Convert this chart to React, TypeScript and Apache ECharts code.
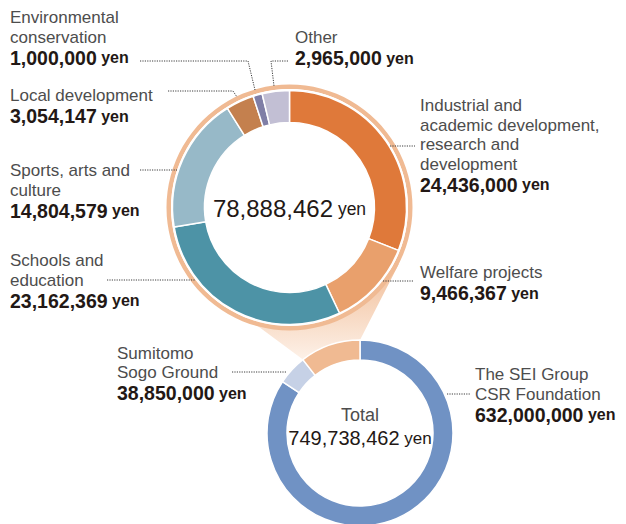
import React, { useEffect, useRef } from 'react';
import * as echarts from 'echarts';

// ---------- data ----------
const topCategories = [
  'Industrial and academic development, research and development',
  'Welfare projects',
  'Schools and education',
  'Sports, arts and culture',
  'Local development',
  'Environmental conservation',
  'Other',
];
const topLabelLines = [
  ['Industrial and', 'academic development,', 'research and', 'development'],
  ['Welfare projects'],
  ['Schools and', 'education'],
  ['Sports, arts and', 'culture'],
  ['Local development'],
  ['Environmental', 'conservation'],
  ['Other'],
];
const topValues = [24436000, 9466367, 23162369, 14804579, 3054147, 1000000, 2965000];
const topColors = ['#DF793A', '#E9A06C', '#4D93A6', '#97B9C8', '#C4804E', '#7F7EA6', '#C2BFD4'];

const bottomCategories = ['The SEI Group CSR Foundation', 'Sumitomo Sogo Ground'];
const bottomLabelLines = [['The SEI Group', 'CSR Foundation'], ['Sumitomo', 'Sogo Ground']];
const bottomValues = [632000000, 38850000];
const bottomColors = ['#7092C4', '#C6D1E6', '#F0BA92'];

// ---------- layout (positions / styles) ----------
const FONT = '"Liberation Sans", Arial, sans-serif';
const TC = [289.5, 207.5]; // top donut centre
const TR = [85, 117];
const RING = [118.5, 123];
const BC = [360, 433]; // bottom donut centre
const BR = [73, 93];

const topLabelPos: number[][] = [[420, 96], [420, 263], [10, 251], [10, 161], [10, 86], [10, 8], [295, 28]];
const topLeaders: number[][][] = [
  [[390, 146], [415, 146]],
  [[383, 281], [413, 281]],
  [[107, 280], [195, 280]],
  [[140, 170], [177, 170]],
  [[168, 91], [233, 91], [237, 97]],
  [[140, 61], [248, 61], [255, 90]],
  [[288, 61], [271, 61], [274, 86]],
];
const bottomLabelPos: number[][] = [[475, 365], [117, 343.5]];
const bottomLeaders: number[][][] = [
  [[447, 394], [470, 394]],
  [[232, 372], [287, 372]],
];

const fmt = (v: number) => v.toLocaleString('en-US');

const rich = {
  n: { fontFamily: FONT, fontSize: 17, lineHeight: 19.5, fill: '#4d4d4d' },
  v: { fontFamily: FONT, fontSize: 19.5, fontWeight: 'bold', lineHeight: 21.5, fill: '#231815' },
  y: { fontFamily: FONT, fontSize: 16, fontWeight: 'bold', lineHeight: 21.5, fill: '#231815' },
  c: { fontFamily: FONT, fontSize: 24, lineHeight: 28, fill: '#231815' },
  cy: { fontFamily: FONT, fontSize: 17.5, lineHeight: 28, fill: '#231815' },
  t: { fontFamily: FONT, fontSize: 18, lineHeight: 22, fill: '#4d4d4d' },
  tv: { fontFamily: FONT, fontSize: 20, lineHeight: 24, fill: '#231815' },
  ty: { fontFamily: FONT, fontSize: 17, lineHeight: 24, fill: '#231815' },
};

function labelText(lines: string[], value: number) {
  return lines.map((l) => `{n|${l}}`).join('\n') + `\n{v|${fmt(value)}}{y| yen}`;
}

function tangentAngle(p: number[], c: number[], r: number, side: number) {
  const dx = p[0] - c[0];
  const dy = p[1] - c[1];
  const d = Math.sqrt(dx * dx + dy * dy);
  return Math.atan2(dy, dx) + side * Math.acos(r / d);
}

export default function App() {
  const ref = useRef<HTMLDivElement>(null);
  useEffect(() => {
    if (!ref.current) return;
    const chart = echarts.init(ref.current, undefined, { renderer: 'svg' });

    const topSum = topValues.reduce((a, b) => a + b, 0);
    const bottomData = [...bottomValues, topSum];
    const total = bottomData.reduce((a, b) => a + b, 0);

    // funnel connecting top donut to its slice in the bottom donut
    const theta = (2 * Math.PI * topSum) / total;
    const pL = [BC[0] - BR[1] * Math.sin(theta), BC[1] - BR[1] * Math.cos(theta)];
    const pR = [BC[0], BC[1] - BR[1]];
    const aL = tangentAngle(pL, TC, 114, 1);
    const aR = tangentAngle(pR, TC, RING[1], -1);
    const funnel: number[][] = [pL, [TC[0] + 114 * Math.cos(aL), TC[1] + 114 * Math.sin(aL)]];
    const steps = 10;
    for (let i = 1; i < steps; i++) {
      const a = aL + ((aR - aL) * i) / steps;
      funnel.push([TC[0] + 116 * Math.cos(a), TC[1] + 116 * Math.sin(a)]);
    }
    funnel.push([TC[0] + RING[1] * Math.cos(aR), TC[1] + RING[1] * Math.sin(aR)]);
    funnel.push(pR);

    const elements: any[] = [
      {
        type: 'polygon',
        z: 0,
        silent: true,
        shape: { points: funnel },
        style: {
          fill: new echarts.graphic.LinearGradient(0, 0, 0, 1, [
            { offset: 0, color: '#F1BD97' },
            { offset: 1, color: '#FDF1E8' },
          ]),
        },
      },
    ];

    const leaderStyle = { stroke: '#3c3c3c', lineWidth: 1, lineDash: [1.2, 1.2], fill: null };
    topValues.forEach((v, i) => {
      elements.push({
        type: 'text',
        z: 100,
        x: topLabelPos[i][0],
        y: topLabelPos[i][1],
        style: { text: labelText(topLabelLines[i], v), rich, align: 'left', verticalAlign: 'top' },
      });
      elements.push({ type: 'polyline', z: 100, shape: { points: topLeaders[i] }, style: leaderStyle });
    });
    bottomValues.forEach((v, i) => {
      elements.push({
        type: 'text',
        z: 100,
        x: bottomLabelPos[i][0],
        y: bottomLabelPos[i][1],
        style: { text: labelText(bottomLabelLines[i], v), rich, align: 'left', verticalAlign: 'top' },
      });
      elements.push({ type: 'polyline', z: 100, shape: { points: bottomLeaders[i] }, style: leaderStyle });
    });
    elements.push({
      type: 'text',
      z: 100,
      x: TC[0],
      y: TC[1] + 1,
      style: { text: `{c|${fmt(topSum)}}{cy| yen}`, rich, align: 'center', verticalAlign: 'middle' },
    });
    elements.push({
      type: 'text',
      z: 100,
      x: BC[0],
      y: BC[1] - 18,
      style: { text: '{t|Total}', rich, align: 'center', verticalAlign: 'middle' },
    });
    elements.push({
      type: 'text',
      z: 100,
      x: BC[0],
      y: BC[1] + 5,
      style: { text: `{tv|${fmt(total)}}{ty| yen}`, rich, align: 'center', verticalAlign: 'middle' },
    });

    const common = {
      type: 'pie',
      silent: true,
      startAngle: 90,
      label: { show: false },
      labelLine: { show: false },
      emphasis: { disabled: true },
    };

    chart.setOption({
      animation: false,
      backgroundColor: '#ffffff',
      series: [
        {
          ...common,
          center: TC,
          radius: RING,
          data: [{ value: 1, name: 'ring', itemStyle: { color: '#F0BA93' } }],
        },
        {
          ...common,
          center: TC,
          radius: [TR[1] - 2, RING[0]],
          data: [{ value: 1, name: 'gap', itemStyle: { color: '#ffffff' } }],
        },
        {
          ...common,
          center: TC,
          radius: TR,
          itemStyle: { borderColor: '#ffffff', borderWidth: 1.5 },
          data: topValues.map((v, i) => ({ value: v, name: topCategories[i], itemStyle: { color: topColors[i] } })),
        },
        {
          ...common,
          center: BC,
          radius: BR,
          itemStyle: { borderColor: '#ffffff', borderWidth: 1.5 },
          data: bottomData.map((v, i) => ({
            value: v,
            name: i < bottomCategories.length ? bottomCategories[i] : 'Total of projects',
            itemStyle: { color: bottomColors[i] },
          })),
        },
      ],
      graphic: { elements },
    });
    return () => chart.dispose();
  }, []);
  return <div ref={ref} style={{ position: 'absolute', left: 0, top: 0, width: 626, height: 524 }} />;
}
